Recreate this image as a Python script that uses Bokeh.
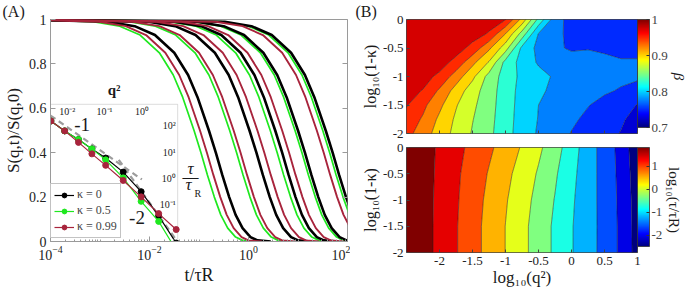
import math
import numpy as np
from bokeh.plotting import figure
from bokeh.layouts import row, column
from bokeh.models import (FixedTicker, LinearAxis, Label, ColorBar, LinearColorMapper,
                          CustomJSTickFormatter, Legend, LegendItem, Title, Range1d, LogScale,
                          BoxAnnotation)
from bokeh.embed import file_html
from bokeh.resources import INLINE

FONT = "Liberation Serif"

# ---------------- Panel A: S(q,t)/S(q,0) decay curves (log10 t at each S level) ----------------
S_LEVELS = [1.0, 0.99, 0.97, 0.93, 0.85, 0.75, 0.65, 0.5, 0.4, 0.3, 0.2, 0.12, 0.06, 0.02, 0.005, 0.0]
logt_green_q1 = [-4.5, -3.14, -2.60, -2.19, -1.80, -1.52, -1.33, -1.10, -0.96, -0.83, -0.69, -0.56, -0.42, -0.26, -0.12, 0.15]
logt_red_q1 = [-4.5, -3.02, -2.48, -2.07, -1.68, -1.40, -1.21, -0.98, -0.84, -0.71, -0.57, -0.44, -0.30, -0.14, 0.00, 0.27]
logt_black_q1 = [-4.5, -2.84, -2.30, -1.89, -1.50, -1.22, -1.03, -0.80, -0.66, -0.53, -0.39, -0.26, -0.12, 0.04, 0.18, 0.45]
logt_green_q2 = [-4.5, -2.42, -1.88, -1.47, -1.08, -0.80, -0.61, -0.38, -0.24, -0.11, 0.03, 0.16, 0.30, 0.46, 0.60, 0.87]
logt_red_q2 = [-4.5, -2.34, -1.80, -1.39, -1.00, -0.72, -0.53, -0.30, -0.16, -0.03, 0.11, 0.24, 0.38, 0.54, 0.68, 0.95]
logt_black_q2 = [-4.5, -2.02, -1.48, -1.07, -0.68, -0.40, -0.21, 0.02, 0.16, 0.29, 0.43, 0.56, 0.70, 0.86, 1.00, 1.27]
logt_red_q3 = [-4.5, -1.86, -1.32, -0.91, -0.52, -0.24, -0.05, 0.18, 0.32, 0.45, 0.59, 0.72, 0.86, 1.02, 1.16, 1.43]
logt_green_q3 = [-4.5, -1.60, -1.06, -0.65, -0.26, 0.02, 0.21, 0.44, 0.58, 0.71, 0.85, 0.98, 1.12, 1.28, 1.42, 1.69]
logt_black_q3 = [-4.5, -1.50, -0.96, -0.55, -0.16, 0.12, 0.31, 0.54, 0.68, 0.81, 0.95, 1.08, 1.22, 1.38, 1.52, 1.79]
logt_red_q4 = [-4.5, -1.36, -0.82, -0.41, -0.02, 0.26, 0.45, 0.68, 0.82, 0.95, 1.09, 1.22, 1.36, 1.52, 1.66, 1.93]
logt_green_q4 = [-4.5, -1.10, -0.56, -0.15, 0.24, 0.52, 0.71, 0.94, 1.08, 1.21, 1.35, 1.48, 1.62, 1.78, 1.92, 2.19]
logt_black_q4 = [-4.5, -1.04, -0.50, -0.09, 0.30, 0.58, 0.77, 1.00, 1.14, 1.27, 1.41, 1.54, 1.68, 1.84, 1.98, 2.25]
logt_red_q5 = [-4.5, -0.66, -0.12, 0.29, 0.68, 0.96, 1.15, 1.38, 1.52, 1.65, 1.79, 1.92, 2.06, 2.22, 2.36, 2.63]
logt_green_q5 = [-4.5, -0.54, 0.00, 0.41, 0.80, 1.08, 1.27, 1.50, 1.64, 1.77, 1.91, 2.04, 2.18, 2.34, 2.48, 2.75]
logt_black_q5 = [-4.5, -0.48, 0.06, 0.47, 0.86, 1.14, 1.33, 1.56, 1.70, 1.83, 1.97, 2.10, 2.24, 2.40, 2.54, 2.81]

# ---------------- Inset: relaxation time vs q^2 ----------------
inset_q2 = [0.00363, 0.00851, 0.0200, 0.0457, 0.107, 0.316, 0.955, 2.82, 8.32]
tau_k0 = [155, 64.6, 30.2, 13.2, 5.89, 1.70, 0.302, 0.0355, 0.00324]
tau_k05 = [155, 64.6, 30.2, 13.2, 5.01, 1.02, 0.129, 0.0219, 0.00174]
tau_k099 = [155, 64.6, 23.4, 8.51, 3.09, 0.813, 0.191, 0.0437, 0.0107]
guide1_q2 = [0.00355, 1.0]
guide1_tau = [251, 0.89]
guide2_q2 = [0.24, 7.76]
guide2_tau = [5.0, 0.0049]
inset_q2_ticks = [0.01, 0.1, 1.0]
inset_q2_labels = ["10⁻²", "10⁻¹", "10⁰"]
inset_tau_ticks = [0.1, 1.0, 10.0, 100.0]
inset_tau_labels = ["10⁻¹", "10⁰", "10¹", "10²"]
# inset placement inside panel A (main-axis coordinates of its right / top edges) and its own ranges
INSET_T_RIGHT = 0.0371
INSET_S_TOP = 0.618
INSET_LOGQ2 = (-2.45, 0.96)
INSET_LOGTAU = (-2.43, 2.83)

# ---------------- Panel B: contour grids ----------------
LOGQ2_GRID = [-2.5, -2.25, -2.0, -1.75, -1.5, -1.25, -1.0, -0.75, -0.5, -0.25, 0.0, 0.25, 0.5, 0.75, 1.0]
BETA_LOGK_GRID = [-2.0, -1.75, -1.5, -1.25, -1.0, -0.75, -0.5, -0.25, 0.0]
beta_k200 = [0.958, 0.938, 0.913, 0.893, 0.873, 0.856, 0.834, 0.814, 0.797, 0.785, 0.774, 0.765, 0.757, 0.749, 0.740]
beta_k175 = [0.965, 0.947, 0.920, 0.896, 0.876, 0.858, 0.835, 0.815, 0.799, 0.789, 0.779, 0.770, 0.762, 0.753, 0.742]
beta_k150 = [0.977, 0.956, 0.931, 0.902, 0.880, 0.860, 0.836, 0.816, 0.800, 0.792, 0.784, 0.776, 0.768, 0.760, 0.749]
beta_k125 = [0.982, 0.974, 0.946, 0.915, 0.886, 0.862, 0.837, 0.817, 0.804, 0.795, 0.788, 0.782, 0.778, 0.773, 0.768]
beta_k100 = [0.990, 0.983, 0.970, 0.938, 0.906, 0.866, 0.839, 0.819, 0.808, 0.797, 0.790, 0.785, 0.782, 0.780, 0.778]
beta_k075 = [0.990, 0.988, 0.985, 0.968, 0.932, 0.898, 0.842, 0.816, 0.797, 0.790, 0.785, 0.782, 0.778, 0.776, 0.776]
beta_k050 = [0.995, 0.993, 0.990, 0.985, 0.968, 0.930, 0.886, 0.819, 0.793, 0.779, 0.772, 0.774, 0.773, 0.772, 0.772]
beta_k025 = [0.995, 0.995, 0.993, 0.990, 0.985, 0.973, 0.925, 0.865, 0.799, 0.780, 0.770, 0.768, 0.767, 0.766, 0.768]
beta_k000 = [0.995, 0.995, 0.995, 0.993, 0.990, 0.985, 0.976, 0.917, 0.843, 0.786, 0.765, 0.768, 0.766, 0.765, 0.765]
BETA_LEVELS = [0.7, 0.725, 0.75, 0.775, 0.8, 0.825, 0.85, 0.875, 0.9, 0.925, 0.95, 0.975, 1.0]

TAU_LOGK_GRID = [-2.0, -1.5, -1.0, -0.5, 0.0]
logtau_k200 = [1.82, 1.60, 1.33, 1.07, 0.80, 0.52, 0.25, -0.03, -0.31, -0.60, -0.90, -1.17, -1.45, -1.79, -2.26]
logtau_k150 = [1.82, 1.60, 1.33, 1.07, 0.80, 0.52, 0.25, -0.03, -0.31, -0.60, -0.90, -1.16, -1.45, -1.79, -2.27]
logtau_k100 = [1.82, 1.60, 1.34, 1.09, 0.82, 0.56, 0.29, 0.02, -0.26, -0.55, -0.87, -1.16, -1.46, -1.80, -2.29]
logtau_k050 = [1.82, 1.60, 1.36, 1.11, 0.87, 0.62, 0.36, 0.10, -0.18, -0.48, -0.82, -1.15, -1.47, -1.82, -2.33]
logtau_k000 = [1.82, 1.60, 1.38, 1.16, 0.94, 0.72, 0.48, 0.22, -0.06, -0.37, -0.74, -1.14, -1.48, -1.85, -2.39]
TAU_MIN, TAU_MAX = -2.5, 1.83
N_TAU_BANDS = 11

# ---------------- styling helpers ----------------
def jet(t):
    t = min(max(t, 0.0), 1.0)
    r = min(max(1.5 - abs(4 * t - 3), 0.0), 1.0)
    g = min(max(1.5 - abs(4 * t - 2), 0.0), 1.0)
    b = min(max(1.5 - abs(4 * t - 1), 0.0), 1.0)
    return "#%02x%02x%02x" % (round(255 * r), round(255 * g), round(255 * b))

JET256 = [jet(i / 255) for i in range(256)]
GREEN = "#1fe81f"
RED = "#a8243c"
BLACK = "#000000"
AX = "#9a9a9a"
BX = "#444444"
TXT = "#1a1a1a"
blank = CustomJSTickFormatter(code="return ''")
plain = CustomJSTickFormatter(code="return tick.toString()")

# ======================= Panel A =======================
pA = figure(width=350, height=290, x_axis_type="log", x_range=(1e-4, 1e2), y_range=(0, 1),
            title="(A)", output_backend="svg", toolbar_location=None,
            min_border_left=48, min_border_right=3, min_border_top=16, min_border_bottom=49,
            outline_line_color=AX)
pA.grid.visible = False
pA.title.align = "left"
pA.title.offset = -48
pA.title.standoff = 0
pA.title.text_font = FONT
pA.title.text_font_size = "16px"
pA.title.text_font_style = "normal"
pA.title.text_color = TXT

major_x = [1e-4, 1e-2, 1e0, 1e2]
minor_x = [m * 10.0 ** e for e in range(-4, 2) for m in range(1, 10) if not (m == 1 and e % 2 == 0)]
yt = [0, 0.2, 0.4, 0.6, 0.8, 1.0]

xa = pA.xaxis[0]
xa.ticker = FixedTicker(ticks=major_x, minor_ticks=minor_x)
xa.axis_label = "t/τR"
xa.axis_label_text_font_size = "18px"
xa.axis_label_standoff = 2
ya = pA.yaxis[0]
ya.ticker = FixedTicker(ticks=yt)
ya.formatter = plain
ya.axis_label = "S(q,t)/S(q,0)"
ya.axis_label_text_font_size = "17px"
ya.axis_label_standoff = 3
for ax in (xa, ya):
    ax.axis_line_color = AX
    ax.major_tick_line_color = AX
    ax.minor_tick_line_color = AX
    ax.major_tick_in = 5
    ax.major_tick_out = 0
    ax.minor_tick_in = 2
    ax.minor_tick_out = 0
    ax.major_label_text_font = FONT
    ax.major_label_text_font_size = "14px"
    ax.major_label_text_color = "#222222"
    ax.major_label_standoff = 4
    ax.axis_label_text_font = FONT
    ax.axis_label_text_font_style = "normal"
    ax.axis_label_text_color = TXT

right_ax = LinearAxis(ticker=FixedTicker(ticks=yt), formatter=blank,
                      major_label_text_font_size="1px", major_label_standoff=0,
                      major_tick_in=5, major_tick_out=0, axis_line_color=None,
                      major_tick_line_color=AX)
pA.add_layout(right_ax, "right")

def to_t(lst):
    return [10.0 ** v for v in lst]

for lt in (logt_green_q1, logt_green_q2, logt_green_q3, logt_green_q4, logt_green_q5):
    pA.line(to_t(lt), S_LEVELS, line_color=GREEN, line_width=1.7)
for lt in (logt_black_q1, logt_black_q2, logt_black_q3, logt_black_q4, logt_black_q5):
    pA.line(to_t(lt), S_LEVELS, line_color=BLACK, line_width=2.6)
for lt in (logt_red_q1, logt_red_q2, logt_red_q3, logt_red_q4, logt_red_q5):
    pA.line(to_t(lt), S_LEVELS, line_color=RED, line_width=1.9)

# ---- inset drawn inside panel A through its own (log) ranges ----
t_dec_in = math.log10(INSET_T_RIGHT) + 4.0
q_hi = INSET_LOGQ2[0] + (INSET_LOGQ2[1] - INSET_LOGQ2[0]) * 6.0 / t_dec_in
tau_hi = INSET_LOGTAU[0] + (INSET_LOGTAU[1] - INSET_LOGTAU[0]) / INSET_S_TOP
pA.extra_x_ranges = {"q2": Range1d(10 ** INSET_LOGQ2[0], 10 ** q_hi)}
pA.extra_x_scales = {"q2": LogScale()}
pA.extra_y_ranges = {"tau": Range1d(10 ** INSET_LOGTAU[0], 10 ** tau_hi)}
pA.extra_y_scales = {"tau": LogScale()}
Q_RIGHT = 10 ** INSET_LOGQ2[1]
TAU_TOP = 10 ** INSET_LOGTAU[1]

pA.add_layout(BoxAnnotation(left=1e-4, right=INSET_T_RIGHT, bottom=0, top=INSET_S_TOP,
                            fill_color="white", fill_alpha=1.0, line_color="#8a8a8a",
                            line_width=1, level="underlay"))
IR = dict(x_range_name="q2", y_range_name="tau")
pA.line(guide1_q2, guide1_tau, line_color="#9c9c9c", line_width=2.2, line_dash="6 4", **IR)
pA.line(guide2_q2, guide2_tau, line_color="#9c9c9c", line_width=2.2, line_dash="6 4", **IR)
l0 = pA.line(inset_q2, tau_k0, line_color=BLACK, line_width=1.2, **IR)
s0 = pA.scatter(inset_q2, tau_k0, size=6, color=BLACK, **IR)
l1 = pA.line(inset_q2, tau_k05, line_color=GREEN, line_width=1.2, **IR)
s1 = pA.scatter(inset_q2, tau_k05, size=6, color=GREEN, **IR)
l2 = pA.line(inset_q2, tau_k099, line_color=RED, line_width=1.2, **IR)
s2 = pA.scatter(inset_q2, tau_k099, size=6, color=RED, **IR)

def dlabel(x, y, text, size, align="center", baseline="middle", style="normal", xo=0, yo=0):
    pA.add_layout(Label(x=x, y=y, text=text, text_font=FONT, text_font_size=size,
                        text_font_style=style, text_align=align, text_baseline=baseline,
                        text_color=TXT, x_offset=xo, y_offset=yo, **IR))

for tk, tx in zip(inset_q2_ticks, inset_q2_labels):
    dlabel(tk, TAU_TOP, tx, "10px", baseline="top", yo=-2)
for tk, tx in zip(inset_tau_ticks, inset_tau_labels):
    dlabel(Q_RIGHT, tk, tx, "10px", align="right", xo=-2)
dlabel(10 ** ((INSET_LOGQ2[0] + INSET_LOGQ2[1]) / 2), TAU_TOP, "q²", "15px",
       baseline="bottom", style="bold", yo=6)
dlabel(0.025, 110, "-1", "19px")
dlabel(0.74, 0.031, "-2", "19px")

leg = Legend(items=[LegendItem(label="κ = 0", renderers=[l0, s0]),
                    LegendItem(label="κ = 0.5", renderers=[l1, s1]),
                    LegendItem(label="κ = 0.99", renderers=[l2, s2])],
             location=(0, 3), label_text_font=FONT, label_text_font_size="12px",
             glyph_width=20, glyph_height=12, label_height=12, label_standoff=3,
             spacing=1, padding=3, margin=0, border_line_color="#888888",
             background_fill_color="white")
pA.add_layout(leg)

def slabel(p, x, y, text, size, style="normal", align="left", baseline="alphabetic"):
    p.add_layout(Label(x=x, y=y, x_units="screen", y_units="screen", text=text,
                       text_font=FONT, text_font_size=size, text_font_style=style,
                       text_align=align, text_baseline=baseline, text_color=TXT))

slabel(pA, 140, 73, "τ", "17px", style="italic", align="center", baseline="middle")
slabel(pA, 140, 65, "—", "16px", align="center", baseline="middle")
slabel(pA, 138, 57, "τ", "17px", style="italic", align="center", baseline="middle")
slabel(pA, 144, 48, "R", "10px")

# ======================= Panel B =======================
def style_b(p, show_xlabels):
    p.grid.visible = False
    xa_ = p.xaxis[0]
    ya_ = p.yaxis[0]
    xa_.ticker = FixedTicker(ticks=[-2, -1.5, -1, -0.5, 0, 0.5, 1])
    ya_.ticker = FixedTicker(ticks=[-2, -1.5, -1, -0.5, 0])
    ya_.formatter = plain
    ya_.axis_label = "log₁₀(1-κ)"
    ya_.axis_label_text_font_size = "16px"
    ya_.axis_label_standoff = 1
    if show_xlabels:
        xa_.formatter = plain
        xa_.axis_label = "log₁₀(q²)"
        xa_.axis_label_text_font_size = "17px"
        xa_.axis_label_standoff = 0
        xa_.major_label_standoff = 4
    else:
        xa_.formatter = blank
        xa_.major_label_text_font_size = "1px"
        xa_.major_label_standoff = 0
    for ax in (xa_, ya_):
        ax.axis_line_color = None
        ax.major_tick_line_color = BX
        ax.minor_tick_line_color = None
        ax.major_tick_in = 3
        ax.major_tick_out = 0
        ax.axis_label_text_font = FONT
        ax.axis_label_text_font_style = "normal"
        ax.axis_label_text_color = TXT
        if ax is ya_ or show_xlabels:
            ax.major_label_text_font = FONT
            ax.major_label_text_font_size = "13px"
            ax.major_label_text_color = "#222222"
    ya_.major_label_standoff = 3

def side_title(p, text, size, style="normal"):
    p.add_layout(Title(text=text, align="center", standoff=0, text_font=FONT,
                       text_font_size=size, text_font_style=style, text_color=TXT), "right")

pT = figure(width=338, height=140, x_range=(-2.5, 1.0), y_range=(-2, 0), title="(B)",
            output_backend="svg", toolbar_location=None,
            min_border_left=56, min_border_right=46, min_border_top=16, min_border_bottom=7,
            outline_line_color=BX)
pT.title.align = "left"
pT.title.offset = -51
pT.title.standoff = 0
pT.title.text_font = FONT
pT.title.text_font_size = "16px"
pT.title.text_font_style = "normal"
pT.title.text_color = TXT
style_b(pT, False)
X1, Y1 = np.meshgrid(np.array(LOGQ2_GRID), np.array(BETA_LOGK_GRID))
Z1 = np.array([beta_k200, beta_k175, beta_k150, beta_k125, beta_k100,
               beta_k075, beta_k050, beta_k025, beta_k000])
top_cols = [jet(k / 12) for k in range(12)]
pT.contour(X1, Y1, Z1, levels=BETA_LEVELS, fill_color=top_cols,
           line_color="#1a1a1a", line_width=0.6, line_alpha=0.8)
cb1 = ColorBar(color_mapper=LinearColorMapper(palette=JET256, low=0.7, high=1.0),
               ticker=FixedTicker(ticks=[0.7, 0.8, 0.9, 1.0]), formatter=plain,
               width=12, height=108, padding=0, margin=3, location="top_left",
               label_standoff=2, major_label_text_font=FONT, major_label_text_font_size="13px",
               major_tick_line_color="#333333", major_tick_in=3, major_tick_out=0,
               bar_line_color="#333333", bar_line_width=0.8,
               background_fill_alpha=0.0, border_line_color=None)
pT.add_layout(cb1, "right")
side_title(pT, "β", "15px", style="italic")

pB = figure(width=338, height=150, x_range=(-2.5, 1.0), y_range=(-2, 0),
            output_backend="svg", toolbar_location=None,
            min_border_left=56, min_border_right=46, min_border_top=7, min_border_bottom=38,
            outline_line_color=BX)
style_b(pB, True)
X2, Y2 = np.meshgrid(np.array(LOGQ2_GRID), np.array(TAU_LOGK_GRID))
Z2 = np.array([logtau_k200, logtau_k150, logtau_k100, logtau_k050, logtau_k000])
tau_levels = list(np.linspace(TAU_MIN, TAU_MAX, N_TAU_BANDS + 1))
bot_cols = [jet(k / 10) for k in range(11)]
pB.contour(X2, Y2, Z2, levels=tau_levels, fill_color=bot_cols,
           line_color="#1a1a1a", line_width=0.6, line_alpha=0.8)
cb2 = ColorBar(color_mapper=LinearColorMapper(palette=JET256, low=TAU_MIN, high=TAU_MAX),
               ticker=FixedTicker(ticks=[-2, -1, 0, 1]), formatter=plain,
               width=12, height=99, padding=0, margin=3, location="top_left",
               label_standoff=2, major_label_text_font=FONT, major_label_text_font_size="13px",
               major_tick_line_color="#333333", major_tick_in=3, major_tick_out=0,
               bar_line_color="#333333", bar_line_width=0.8,
               background_fill_alpha=0.0, border_line_color=None)
pB.add_layout(cb2, "right")
side_title(pB, "log₁₀(τ/τR)", "15px")

layout = row(pA, column(pT, pB))
open("out.html", "w").write(file_html(layout, INLINE))
